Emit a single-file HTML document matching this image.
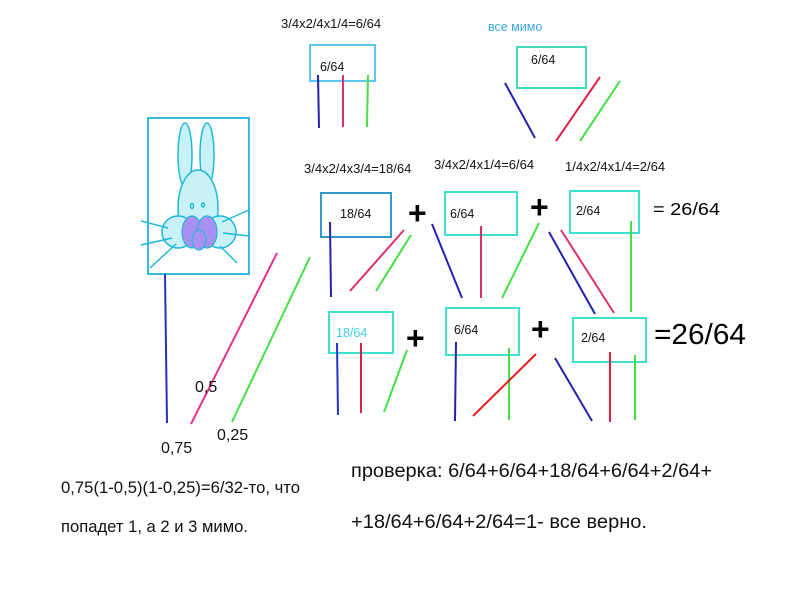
<!DOCTYPE html>
<html><head><meta charset="utf-8"><style>
body{margin:0;background:#fff;}
svg{display:block}
text{font-family:"Liberation Sans",sans-serif;}
</style></head><body>
<svg width="800" height="600" viewBox="0 0 800 600" xmlns="http://www.w3.org/2000/svg">
<rect width="800" height="600" fill="#fff"/>
<!-- rabbit -->
<rect x="148" y="118" width="101" height="156" fill="none" stroke="#33bbe0" stroke-width="2"/>
<g stroke="#22b8d8" stroke-width="1.5" fill="#c8f2f8">
<ellipse cx="185" cy="155" rx="7" ry="32"/>
<ellipse cx="207" cy="155" rx="7" ry="32"/>
<ellipse cx="198" cy="208" rx="20" ry="38"/>
<circle cx="178" cy="232" r="16"/>
<circle cx="220" cy="232" r="16"/>
</g>
<g fill="#a890f0" stroke="#22b8d8" stroke-width="1.2">
<ellipse cx="192" cy="232" rx="10" ry="16"/>
<ellipse cx="207" cy="232" rx="10" ry="16"/>
<ellipse cx="199" cy="240" rx="7" ry="10"/>
</g>
<g stroke="#22b8d8" stroke-width="1.5" fill="none">
<ellipse cx="192" cy="206" rx="1.5" ry="2.5"/><ellipse cx="203" cy="205" rx="1.5" ry="2"/>
<line x1="141" y1="221" x2="168" y2="228"/><line x1="141" y1="245" x2="172" y2="238"/><line x1="150" y1="268" x2="176" y2="244"/>
<line x1="249" y1="210" x2="222" y2="222"/><line x1="249" y1="236" x2="223" y2="233"/><line x1="237" y1="263" x2="220" y2="246"/>
</g>
<!-- boxes -->
<g fill="none" stroke-width="2">
<rect x="310" y="45" width="65" height="36" stroke="#5cc6ec"/>
<rect x="517" y="47" width="69" height="41" stroke="#40dcb8"/>
<rect x="321" y="193" width="70" height="44" stroke="#3399cc"/>
<rect x="445" y="192" width="72" height="43" stroke="#40e0d0"/>
<rect x="570" y="191" width="69" height="42" stroke="#40e0d0"/>
<rect x="329" y="312" width="64" height="41" stroke="#40e0d0"/>
<rect x="446" y="308" width="73" height="47" stroke="#40e0d0"/>
<rect x="573" y="318" width="73" height="44" stroke="#40e0d0"/>
</g>
<!-- lines -->
<g stroke-width="2">
<line x1="318" y1="75" x2="319" y2="128" stroke="#2222aa"/>
<line x1="343" y1="75" x2="343" y2="127" stroke="#e0306a"/>
<line x1="368" y1="75" x2="367" y2="127" stroke="#44e044"/>
<line x1="505" y1="83" x2="535" y2="138" stroke="#2222aa"/>
<line x1="600" y1="77" x2="556" y2="141" stroke="#e0204a"/>
<line x1="620" y1="81" x2="580" y2="141" stroke="#44e044"/>
<line x1="165" y1="274" x2="167" y2="423" stroke="#2233bb"/>
<line x1="277" y1="253" x2="191" y2="424" stroke="#e83090"/>
<line x1="310" y1="257" x2="232" y2="422" stroke="#44e044"/>
<line x1="330" y1="222" x2="331" y2="297" stroke="#2222aa"/>
<line x1="404" y1="230" x2="350" y2="291" stroke="#e0306a"/>
<line x1="411" y1="235" x2="376" y2="291" stroke="#44e044"/>
<line x1="432" y1="224" x2="462" y2="298" stroke="#2222bb"/>
<line x1="481" y1="226" x2="481" y2="298" stroke="#e0306a"/>
<line x1="539" y1="223" x2="502" y2="298" stroke="#44e044"/>
<line x1="549" y1="232" x2="595" y2="314" stroke="#2222aa"/>
<line x1="561" y1="230" x2="614" y2="313" stroke="#e0306a"/>
<line x1="631" y1="221" x2="631" y2="312" stroke="#44e044"/>
<line x1="337" y1="343" x2="338" y2="415" stroke="#2233cc"/>
<line x1="361" y1="343" x2="361" y2="413" stroke="#e02040"/>
<line x1="407" y1="350" x2="384" y2="412" stroke="#44e044"/>
<line x1="456" y1="342" x2="455" y2="421" stroke="#2222aa"/>
<line x1="509" y1="348" x2="509" y2="420" stroke="#44e044"/>
<line x1="536" y1="354" x2="473" y2="416" stroke="#e02020"/>
<line x1="555" y1="358" x2="592" y2="421" stroke="#2222aa"/>
<line x1="610" y1="352" x2="610" y2="422" stroke="#e02040"/>
<line x1="635" y1="355" x2="635" y2="420" stroke="#44e044"/>
</g>
<!-- texts -->
<g font-size="12.5" fill="#111">
<text x="281" y="28" font-size="13">3/4x2/4x1/4=6/64</text>
<text x="320" y="71">6/64</text>
<text x="531" y="64">6/64</text>
<text x="304" y="173" font-size="13">3/4x2/4x3/4=18/64</text>
<text x="434" y="169" font-size="13">3/4x2/4x1/4=6/64</text>
<text x="565" y="171" font-size="13">1/4x2/4x1/4=2/64</text>
<text x="340" y="218">18/64</text>
<text x="450" y="218">6/64</text>
<text x="576" y="215">2/64</text>
<text x="454" y="334">6/64</text>
<text x="581" y="342">2/64</text>
</g>
<text x="488" y="31" font-size="12.5" fill="#3aa8e0">все мимо</text>
<text x="336" y="337" font-size="12.5" fill="#40d0e8">18/64</text>
<g font-size="32" fill="#000" font-weight="bold">
<text x="408" y="224">+</text>
<text x="530" y="218">+</text>
<text x="406" y="349">+</text>
<text x="531" y="340">+</text>
</g>
<text x="653" y="215" font-size="17.5" textLength="67" lengthAdjust="spacingAndGlyphs">= 26/64</text>
<text x="654" y="344" font-size="29" textLength="92" lengthAdjust="spacingAndGlyphs">=26/64</text>
<g font-size="16" fill="#111">
<text x="195" y="392">0,5</text>
<text x="217" y="440">0,25</text>
<text x="161" y="453">0,75</text>
<text x="61" y="493" font-size="16.5" textLength="239" lengthAdjust="spacingAndGlyphs">0,75(1-0,5)(1-0,25)=6/32-то, что</text>
<text x="61" y="532" font-size="16.5" textLength="187" lengthAdjust="spacingAndGlyphs">попадет 1, а 2 и 3 мимо.</text>
</g>
<g font-size="19" fill="#111">
<text x="351" y="477" textLength="361" lengthAdjust="spacingAndGlyphs">проверка: 6/64+6/64+18/64+6/64+2/64+</text>
<text x="351" y="528" textLength="296" lengthAdjust="spacingAndGlyphs">+18/64+6/64+2/64=1- все верно.</text>
</g>
</svg>
</body></html>
